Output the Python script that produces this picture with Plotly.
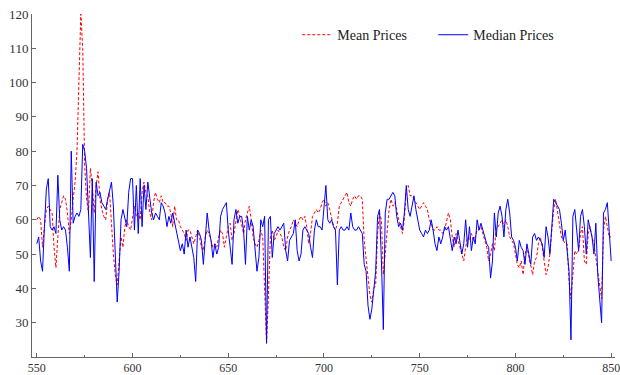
import plotly.graph_objects as go

x_start = 550
median_prices = [
    53, 55, 48, 45, 58, 69, 72, 58, 57, 58,
    56, 73, 60, 57, 58, 57, 52, 45, 80, 59,
    61, 62, 61, 63, 82, 80, 75, 64, 49, 72,
    42, 71, 67, 68, 65, 64, 63, 66, 69, 71,
    64, 52, 36, 45, 60, 63, 60, 58, 68, 72,
    72, 57, 70, 56, 72, 58, 70, 63, 71, 66,
    62, 60, 62, 61, 60, 65, 64, 62, 58, 61,
    59, 62, 59, 57, 53, 51, 53, 50, 57, 52,
    55, 52, 49, 42, 57, 56, 54, 47, 54, 62,
    57, 54, 49, 53, 50, 52, 61, 63, 64, 65,
    57, 52, 47, 60, 63, 59, 61, 61, 57, 47,
    61, 57, 60, 58, 51, 45, 49, 60, 58, 61,
    24, 60, 61, 49, 56, 57, 58, 57, 58, 59,
    51, 48, 54, 55, 56, 60, 51, 48, 50, 57,
    58, 57, 56, 52, 49, 57, 60, 58, 58, 57,
    64, 70, 60, 59, 60, 58, 57, 41, 57, 58,
    57, 57, 58, 57, 62, 58, 57, 57, 58, 57,
    56, 47, 45, 35, 31, 34, 39, 45, 61, 63,
    48, 28, 62, 66, 66, 67, 68, 67, 61, 58,
    59, 57, 62, 70, 63, 61, 64, 67, 63, 60,
    57, 56, 55, 57, 56, 57, 60, 57, 53, 51,
    55, 53, 55, 58, 57, 58, 55, 51, 55, 53,
    57, 54, 50, 53, 60, 52, 58, 51, 55, 53,
    60, 57, 59, 57, 55, 53, 52, 43, 48, 62,
    55, 62, 64, 61, 55, 63, 66, 62, 55, 54,
    52, 48, 54, 52, 51, 47, 53, 50, 47, 55,
    56, 54, 55, 54, 53, 49, 58, 55, 50, 58,
    66, 65, 64, 63, 59, 54, 57, 52, 45, 25,
    61, 63, 57, 51, 61, 63, 58, 50, 60, 57,
    55, 50, 59, 44, 37, 30, 62, 63, 65, 55,
    48,
]
mean_prices = [
    60, 61, 60, 52, 58, 63, 64, 63, 62, 52,
    46, 55, 63, 65, 67, 66, 62, 56, 60, 66,
    71, 80, 100, 120, 110, 76, 66, 62, 75, 70,
    62, 70, 74, 66, 63, 61, 60, 66, 68, 58,
    50, 44, 41, 48, 55, 52, 58, 60, 58, 57,
    60, 64, 61, 62, 60, 68, 71, 68, 67, 62,
    60, 65, 68, 66, 65, 67, 65, 65, 64, 64,
    62, 58, 64, 60, 60, 58, 57, 56, 54, 57,
    57, 55, 53, 55, 57, 55, 52, 51, 55, 57,
    56, 54, 52, 53, 52, 55, 57, 56, 52, 55,
    58, 59, 54, 56, 60, 63, 61, 58, 56, 60,
    62, 64, 60, 55, 53, 52, 54, 57, 55, 40,
    24, 38, 55, 57, 54, 55, 57, 56, 55, 52,
    51, 55, 57, 58, 60, 59, 58, 60, 61, 60,
    61, 58, 53, 56, 61, 62, 63, 62, 63, 65,
    66, 64, 65, 63, 60, 58, 57, 59, 64, 65,
    66, 67, 68, 65, 64, 66, 67, 66, 67, 67,
    66, 54, 49, 45, 38, 36, 40, 41, 56, 62,
    60, 44, 50, 58, 63, 66, 64, 65, 63, 60,
    58, 56, 60, 69, 70, 67, 67, 66, 65, 64,
    63, 64, 65, 64, 63, 60, 59, 57, 57, 58,
    57, 57, 56, 57, 60, 62, 60, 55, 52, 56,
    54, 52, 50, 48, 52, 55, 54, 56, 54, 55,
    57, 57, 58, 56, 54, 52, 48, 50, 53, 51,
    58, 58, 59, 60, 58, 60, 58, 55, 54, 53,
    50, 47, 46, 48, 44, 50, 52, 49, 46, 44,
    48, 49, 53, 55, 52, 48, 44, 46, 50, 57,
    63, 66, 62, 58, 55, 54, 53, 53, 42, 37,
    45, 51, 50, 51, 56, 58, 48, 47, 56, 58,
    55, 53, 49, 45, 40, 37, 57, 61, 58, 55,
    55,
]
x_vals = list(range(x_start, x_start + len(median_prices)))
y_ticks = [30, 40, 50, 60, 70, 80, 90, 100, 110, 120]
x_ticks = [550, 600, 650, 700, 750, 800, 850]

fig = go.Figure()
fig.add_trace(go.Scatter(
    x=x_vals, y=mean_prices, mode="lines", name="Mean Prices",
    line=dict(color="#ff0000", width=1, dash="3px,2px"),
))
fig.add_trace(go.Scatter(
    x=x_vals, y=median_prices, mode="lines", name="Median Prices",
    line=dict(color="#0000ff", width=1),
))

font_family = "Liberation Serif"
fig.update_layout(
    width=620, height=375,
    margin=dict(l=32, r=5, t=14, b=18, autoexpand=False),
    paper_bgcolor="white", plot_bgcolor="white",
    font=dict(family=font_family, size=13, color="#333"),
    showlegend=True,
    legend=dict(
        orientation="h", x=0.455, y=0.985, xanchor="left", yanchor="top",
        font=dict(family=font_family, size=14, color="#222"),
        bgcolor="rgba(0,0,0,0)", itemwidth=30,
        entrywidth=91, entrywidthmode="pixels",
    ),
    xaxis=dict(
        range=[547.5, 852], tickvals=x_ticks, ticks="inside", ticklen=4,
        tickcolor="#666", showline=True, linecolor="#666", linewidth=1,
        showgrid=False, zeroline=False, automargin=False,
        ticklabeloverflow="allow",
        tickfont=dict(family=font_family, size=12, color="#333"),
        minor=dict(tickvals=[575, 625, 675, 725, 775, 825], ticks="inside",
                   ticklen=2, tickcolor="#666", showgrid=False),
    ),
    yaxis=dict(
        range=[20, 120], tickvals=y_ticks, ticks="inside", ticklen=4,
        tickcolor="#666", showline=True, linecolor="#666", linewidth=1,
        showgrid=False, zeroline=False, automargin=False,
        ticklabeloverflow="allow",
        tickfont=dict(family=font_family, size=13, color="#333"),
    ),
)
fig.write_html(
    "out.html",
    config={"displayModeBar": False},
    post_script="document.body.style.margin='0';document.body.style.padding='0';document.body.style.overflow='hidden';",
)
